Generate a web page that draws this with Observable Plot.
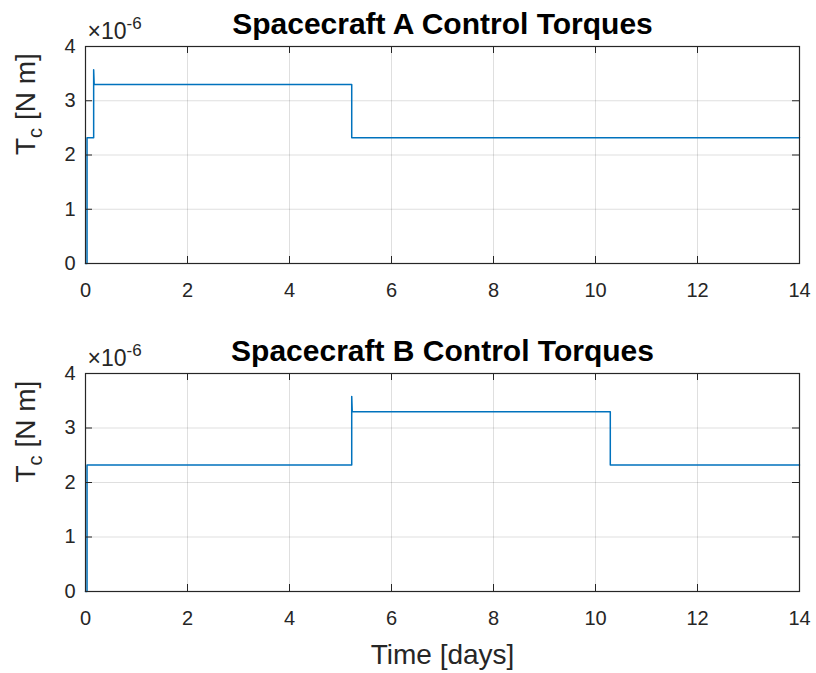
<!DOCTYPE html>
<html>
<head>
<meta charset="utf-8">
<script src="https://cdn.jsdelivr.net/npm/d3@7"></script>
<script src="https://cdn.jsdelivr.net/npm/@observablehq/plot@0.6"></script>
<style>
  html, body { margin: 0; padding: 0; background: #fff; }
  #chart { width: 816px; height: 673px; }
  #chart svg { display: block; }
</style>
</head>
<body>
<div id="chart"></div>
<script>
// Control torque histories (units of 1e-6 N m), given as step breakpoints.
const timeA = [0, 0.03, 0.03, 0.16, 0.16, 0.17, 5.22, 5.22, 14];
const torqueA = [0, 0, 2.32, 2.32, 3.57, 3.30, 3.30, 2.32, 2.32];
const timeB = [0, 0.03, 0.03, 5.22, 5.22, 5.23, 10.29, 10.29, 14];
const torqueB = [0, 0, 2.32, 2.32, 3.58, 3.30, 3.30, 2.32, 2.32];

const xTicks = [0, 2, 4, 6, 8, 10, 12, 14];
const yTicks = [0, 1, 2, 3, 4];
const titles = ["Spacecraft A Control Torques", "Spacecraft B Control Torques"];
const yLabelParts = ["T", "c", " [N m]"];
const exponentParts = ["×10", "-6"];
const xLabel = "Time [days]";

const INK = "#262626";
const LINE = "#0072BD";
const FONT = "'Liberation Sans', Arial, Helvetica, sans-serif";

function toRows(time, torque) {
  return time.map((t, i) => ({t, v: torque[i]}));
}

function panel(rows, title, {height, marginTop, marginBottom, withXLabel}) {
  const marginLeft = 85, marginRight = 17, width = 816;
  const W = width - marginLeft - marginRight;
  const H = height - marginTop - marginBottom;
  const tick = 7;
  const marks = [
    Plot.gridX(xTicks, {stroke: INK, strokeOpacity: 0.15}),
    Plot.gridY(yTicks, {stroke: INK, strokeOpacity: 0.15}),
    Plot.line(rows, {x: "t", y: "v", stroke: LINE, strokeWidth: 1.5}),
    // inward-pointing ticks on all four sides of the box
    Plot.tickX(xTicks, {x: d => d, stroke: INK, insetTop: H - tick}),
    Plot.tickX(xTicks, {x: d => d, stroke: INK, insetBottom: H - tick}),
    Plot.tickY(yTicks, {y: d => d, stroke: INK, insetRight: W - tick}),
    Plot.tickY(yTicks, {y: d => d, stroke: INK, insetLeft: W - tick}),
    Plot.frame({stroke: INK, strokeWidth: 1.2}),
    Plot.axisX(xTicks, {tickSize: 0, tickPadding: 19, fontSize: 20, label: null, tickFormat: d3.format("d")}),
    Plot.axisY(yTicks, {tickSize: 0, tickPadding: 10, fontSize: 20, label: null, tickFormat: d3.format("d")}),
    Plot.text([title], {frameAnchor: "top", lineAnchor: "bottom", dy: -13,
      fontSize: 30, fontWeight: "bold", fill: "#000"}),
    Plot.text([exponentParts.join("")], {frameAnchor: "top-left", textAnchor: "start",
      lineAnchor: "bottom", dx: 2, dy: -8, fontSize: 23, fill: INK}),
    Plot.text([yLabelParts.join("")], {frameAnchor: "left", rotate: -90,
      lineAnchor: "bottom", dx: -51, fontSize: 28, fill: INK})
  ];
  if (withXLabel) {
    marks.push(Plot.text([xLabel], {frameAnchor: "bottom", lineAnchor: "bottom",
      dy: 72, fontSize: 28, fill: INK}));
  }
  const svg = Plot.plot({
    width, height, marginLeft, marginRight, marginTop, marginBottom,
    style: {fontFamily: FONT, color: INK, background: "#fff", overflow: "visible"},
    x: {domain: [0, 14]},
    y: {domain: [0, 4]},
    marks
  });

  // superscript exponent and subscript "c"
  const sel = d3.select(svg).selectAll("text");
  sel.filter(function () { return this.textContent === exponentParts.join(""); })
    .each(function () {
      const t = d3.select(this).text(null);
      t.append("tspan").text(exponentParts[0]);
      t.append("tspan").attr("dy", -10).attr("font-size", 17).text(exponentParts[1]);
    });
  sel.filter(function () { return this.textContent === yLabelParts.join(""); })
    .each(function () {
      const t = d3.select(this).text(null);
      t.append("tspan").text(yLabelParts[0]);
      t.append("tspan").attr("dy", 7).attr("font-size", 20).text(yLabelParts[1]);
      t.append("tspan").attr("dy", -7).text(yLabelParts[2]);
    });
  return svg;
}

const chart = document.getElementById("chart");
chart.append(panel(toRows(timeA, torqueA), titles[0],
  {height: 336, marginTop: 46, marginBottom: 73, withXLabel: false}));
chart.append(panel(toRows(timeB, torqueB), titles[1],
  {height: 337, marginTop: 37, marginBottom: 82, withXLabel: true}));
</script>
</body>
</html>
